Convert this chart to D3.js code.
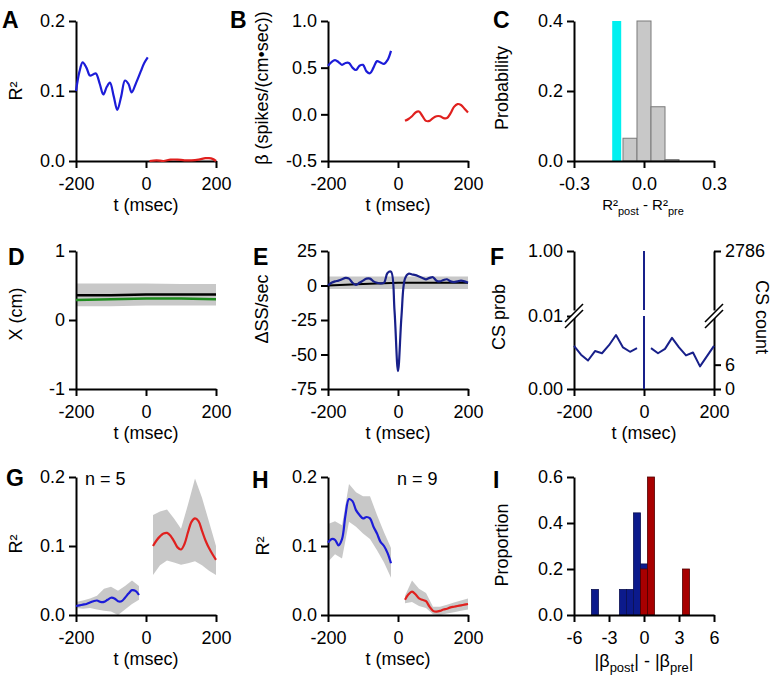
<!DOCTYPE html>
<html><head><meta charset="utf-8">
<script src="https://cdn.jsdelivr.net/npm/d3@7"></script>
<style>
body{margin:0;background:#fff}
svg text{font-family:'Liberation Sans',Arial,sans-serif;fill:#000}
</style>
</head><body>
<svg id="c" width="775" height="681"></svg>
<script>
// ---------------- DATA ----------------
// Panel A
const tA_pre = [-200,-190,-181,-170,-160,-150,-143,-132,-122,-112,-103,-92,-82,-71,-60,-50,-41,-28,-15,-5,5];
const A_pre  = [0.100,0.128,0.141,0.133,0.122,0.124,0.125,0.110,0.095,0.106,0.112,0.092,0.073,0.092,0.115,0.110,0.098,0.112,0.128,0.140,0.148];
const tA_post = [10,30,50,70,90,110,130,150,170,180,190,200];
const A_post  = [0.000,0.001,0.000,0.002,0.002,0.001,0.001,0.002,0.004,0.004,0.003,0.000];
// shared time bases
const tPre  = [-200,-190,-180,-170,-160,-150,-140,-130,-120,-110,-100,-90,-80,-70,-60,-50,-40,-30,-20];
const tPost = [20,30,40,50,60,70,80,90,100,110,120,130,140,150,160,170,180,190,200];
// Panel B
const B_pre  = [0.52,0.56,0.58,0.56,0.53,0.55,0.55,0.50,0.475,0.52,0.53,0.46,0.44,0.50,0.57,0.555,0.54,0.58,0.68];
const B_post = [-0.07,-0.05,-0.02,0.02,0.03,-0.02,-0.07,-0.07,-0.04,-0.02,-0.02,-0.04,-0.04,0.01,0.08,0.11,0.10,0.06,0.02];
// Panel C (histogram of R2post - R2pre)
const C_binStart = [-0.09,-0.03,0.03,0.09];
const C_binWidth = 0.06;
const C_prob     = [0.065,0.400,0.155,0.004];
const C_observed = -0.117;
const C_observedProb = 0.4;
// Panel D
const tD = [-200,-100,0,100,200];
const D_black = [0.36,0.36,0.37,0.37,0.37];
const D_green = [0.29,0.30,0.31,0.31,0.30];
const D_lo = [0.20,0.20,0.21,0.21,0.21];
const D_hi = [0.53,0.53,0.53,0.52,0.52];
// Panel E
const tE = [-200,-190,-180,-170,-160,-150,-140,-130,-120,-110,-100,-90,-80,-70,-60,-50,-40,-30,-20,-10,0,10,20,30,40,50,60,70,80,90,100,110,120,130,140,150,160,170,180,190,200];
const E_blue = [0,2,3,3.5,4.5,5.5,5,2,0.5,2,3.5,5,5,3,2,1.5,2,9,10,-18,-62,-22,5,8.5,8,7.5,6.5,5.5,4.5,5.5,6,3.5,3,4,4.5,3,2.5,3,3.5,3,2];
const tEb = [-200,-100,0,100,200];
const E_black = [0,1,2,2,2];
const E_lo = [-2.5,-2.5,-2.5,-2.5,-2.5];
const E_hi = [6.5,6.5,6.5,6.5,6.5];
// Panel F
const tF_pre  = [-200,-180,-160,-140,-120,-100,-80,-60,-40,-20];
const F_pre   = [0.0059,0.0047,0.0039,0.0052,0.0049,0.0060,0.0074,0.0057,0.0051,0.0056];
const tF_post = [20,40,60,80,100,120,140,160,180,200];
const F_post  = [0.0056,0.0049,0.0055,0.0070,0.0057,0.0046,0.0050,0.0031,0.0045,0.0059];
const F_spikeT = 0, F_spikeP = 1.00;
const F_leftTicks  = [0, 0.01, 1.00];
const F_leftLabels = ["0.00","0.01","1.00"];
const F_rightTicks = [0, 6, 2786];
const F_rightLabels= ["0","6","2786"];
// Panel G
const G_pre  = [0.013,0.014,0.015,0.016,0.018,0.020,0.021,0.019,0.019,0.022,0.025,0.024,0.020,0.020,0.025,0.031,0.036,0.035,0.029];
const tBand_pre  = [-200,-180,-160,-140,-120,-100,-80,-60,-40,-20];
const tBand_post = [20,40,60,80,100,120,140,160,180,200];
const G_preHi = [0.019,0.021,0.024,0.028,0.038,0.041,0.035,0.042,0.050,0.042];
const G_preLo = [0.010,0.009,0.010,0.008,0.006,0.005,0.000,0.008,0.016,0.022];
const G_post = [0.100,0.108,0.114,0.118,0.119,0.115,0.107,0.098,0.095,0.103,0.120,0.135,0.140,0.136,0.122,0.108,0.097,0.088,0.080];
const G_postHi = [0.145,0.150,0.153,0.140,0.125,0.160,0.198,0.170,0.135,0.100];
const G_postLo = [0.058,0.072,0.079,0.076,0.073,0.075,0.078,0.072,0.064,0.058];
// Panel H
const H_pre  = [0.105,0.110,0.109,0.101,0.110,0.145,0.168,0.165,0.152,0.145,0.140,0.142,0.140,0.128,0.118,0.106,0.100,0.090,0.075];
const H_preHi = [0.132,0.136,0.130,0.190,0.178,0.172,0.172,0.145,0.120,0.097];
const H_preLo = [0.077,0.088,0.082,0.135,0.128,0.118,0.110,0.094,0.076,0.054];
const H_post = [0.022,0.030,0.034,0.030,0.024,0.022,0.020,0.012,0.006,0.005,0.006,0.008,0.009,0.011,0.012,0.013,0.014,0.015,0.016];
const H_postHi = [0.028,0.050,0.038,0.032,0.012,0.012,0.015,0.018,0.021,0.024];
const H_postLo = [0.017,0.019,0.013,0.010,0.001,0.000,0.002,0.004,0.006,0.008];
// Panel I
const I_binWidth = 0.6;
const I_blueStart = [-4.5,-2.1,-1.5,-0.9,-0.3];
const I_blueProp  = [0.111,0.111,0.111,0.444,0.222];
const I_redStart  = [-0.3,0.3,3.3];
const I_redProp   = [0.2,0.6,0.2];
// tick labels
const tTicks = [-200,0,200], tLabels = ["-200","0","200"];
const r2Ticks = [0,0.1,0.2], r2Labels = ["0.0","0.1","0.2"];
const bTicks = [-0.5,0,0.5,1], bLabels = ["-0.5","0.0","0.5","1.0"];
const cxTicks = [-0.3,0,0.3], cxLabels = ["-0.3","0.0","0.3"];
const cyTicks = [0,0.2,0.4], cyLabels = ["0.0","0.2","0.4"];
const dTicks = [-1,0,1], dLabels = ["-1","0","1"];
const eTicks = [-75,-50,-25,0,25], eLabels = ["-75","-50","-25","0","25"];
const ixTicks = [-6,-3,0,3,6], ixLabels = ["-6","-3","0","3","6"];
const iyTicks = [0,0.2,0.4,0.6], iyLabels = ["0.0","0.2","0.4","0.6"];

// ---------------- LAYOUT ----------------
const svg = d3.select('#c');
const COLX = [76, 328, 574], W = 140;
const ROWS = [[21,161],[251,389],[477,615]];
const BLUE='#1c1cd8', RED='#e0201e', NAVY='#18208a', BAND='#c8c8c8';
const FS = 18;

function sx(col, dom){ return d3.scaleLinear().domain(dom).range([COLX[col], COLX[col]+W]); }
function sy(row, dom){ return d3.scaleLinear().domain(dom).range([ROWS[row][1], ROWS[row][0]]); }

function styleAxis(g){
  g.attr('font-size',FS).attr('font-family',"'Liberation Sans',Arial,sans-serif");
  g.select('.domain').attr('stroke','#000').attr('stroke-width',2);
  g.selectAll('.tick line').attr('stroke','#000').attr('stroke-width',2);
  g.selectAll('.tick text').attr('fill','#000');
}
function xAxis(x, y, ticks, labels){
  const g = svg.append('g').attr('transform',`translate(0,${y.range()[0]})`)
    .call(d3.axisBottom(x).tickValues(ticks).tickFormat((d,i)=>labels[i]).tickSize(7).tickSizeOuter(0).tickPadding(9));
  styleAxis(g); return g;
}
function yAxis(x, y, ticks, labels){
  const g = svg.append('g').attr('transform',`translate(${x.range()[0]},0)`)
    .call(d3.axisLeft(y).tickValues(ticks).tickFormat((d,i)=>labels[i]).tickSize(7).tickSizeOuter(0).tickPadding(4));
  styleAxis(g); return g;
}
function xTitle(x, y, txt){
  svg.append('text').attr('x',(x.range()[0]+x.range()[1])/2).attr('y',y.range()[0]+50)
    .attr('text-anchor','middle').attr('font-size',FS).text(txt);
}
function yTitle(cx, cy, txt, rot){
  return svg.append('text').attr('transform',`translate(${cx},${cy}) rotate(${rot||-90})`)
    .attr('text-anchor','middle').attr('dy','0.35em').attr('font-size',FS).text(txt);
}
function letter(x,y,t){
  svg.append('text').attr('x',x).attr('y',y).attr('font-size',23).attr('font-weight','bold').text(t);
}
function line(x,y,ts,vs,color,w,curve){
  svg.append('path').datum(ts.map((t,i)=>[t,vs[i]]))
    .attr('d', d3.line().x(d=>x(d[0])).y(d=>y(d[1])).curve(curve||d3.curveCatmullRom.alpha(0.5)))
    .attr('fill','none').attr('stroke',color).attr('stroke-width',w||2.2).attr('stroke-linejoin','round');
}
function band(x,y,ts,lo,hi,color){
  svg.append('path').datum(ts.map((t,i)=>[t,lo[i],hi[i]]))
    .attr('d', d3.area().x(d=>x(d[0])).y0(d=>y(d[1])).y1(d=>y(d[2])))
    .attr('fill',color||BAND);
}

// ---------------- A ----------------
{
  const x = sx(0,[-200,200]), y = sy(0,[0,0.2]);
  xAxis(x,y,tTicks,tLabels); yAxis(x,y,r2Ticks,r2Labels);
  line(x,y,tA_pre,A_pre,BLUE);
  line(x,y,tA_post,A_post,RED);
  xTitle(x,y,'t (msec)');
  yTitle(16,91,'R²');
  letter(2,28,'A');
}
// ---------------- B ----------------
{
  const x = sx(1,[-200,200]), y = sy(0,[-0.5,1]);
  xAxis(x,y,tTicks,tLabels); yAxis(x,y,bTicks,bLabels);
  line(x,y,tPre,B_pre,BLUE);
  line(x,y,tPost,B_post,RED);
  xTitle(x,y,'t (msec)');
  yTitle(262,88,'β (spikes/(cm•sec))');
  letter(230,28,'B');
}
// ---------------- C ----------------
{
  const x = sx(2,[-0.3,0.3]), y = sy(0,[0,0.4]);
  svg.append('g').selectAll('rect').data(C_binStart).join('rect')
    .attr('x',d=>x(d)).attr('width',d=>x(d+C_binWidth)-x(d))
    .attr('y',(d,i)=>y(C_prob[i])).attr('height',(d,i)=>y(0)-y(C_prob[i]))
    .attr('fill','#c8c8c8').attr('stroke','#7a7a7a').attr('stroke-width',1);
  svg.append('rect').attr('x',x(C_observed)-4.5).attr('width',9)
    .attr('y',y(C_observedProb)).attr('height',y(0)-y(C_observedProb)).attr('fill','#00f0f0');
  xAxis(x,y,cxTicks,cxLabels); yAxis(x,y,cyTicks,cyLabels);
  const t = svg.append('text').attr('x',643).attr('y',210).attr('text-anchor','middle').attr('font-size',15);
  t.append('tspan').text('R²');
  t.append('tspan').attr('dy',5).attr('font-size',11).text('post');
  t.append('tspan').attr('dy',-5).text(' - R²');
  t.append('tspan').attr('dy',5).attr('font-size',11).text('pre');
  yTitle(502,88,'Probability');
  letter(493,28,'C');
}
// ---------------- D ----------------
{
  const x = sx(0,[-200,200]), y = sy(1,[-1,1]);
  band(x,y,tD,D_lo,D_hi);
  xAxis(x,y,tTicks,tLabels); yAxis(x,y,dTicks,dLabels);
  line(x,y,tD,D_black,'#000',2.5,d3.curveLinear);
  line(x,y,tD,D_green,'#1e8c1e',2.5,d3.curveLinear);
  xTitle(x,y,'t (msec)');
  yTitle(16,314,'X (cm)');
  letter(8,265,'D');
}
// ---------------- E ----------------
{
  const x = sx(1,[-200,200]), y = sy(1,[-75,25]);
  band(x,y,tEb,E_lo,E_hi);
  xAxis(x,y,tTicks,tLabels); yAxis(x,y,eTicks,eLabels);
  line(x,y,tEb,E_black,'#000',2,d3.curveLinear);
  line(x,y,tE,E_blue,NAVY,2.2);
  xTitle(x,y,'t (msec)');
  yTitle(262,309,'ΔSS/sec');
  letter(253,265,'E');
}
// ---------------- F ----------------
{
  const x = sx(2,[-200,200]);
  const yLo = d3.scaleLinear().domain([0,0.01]).range([389,316]);
  const yHi = d3.scaleLinear().domain([0.01,1]).range([310,251]);
  const cLo = d3.scaleLinear().domain([0,18]).range([389,316]);
  const cHi = d3.scaleLinear().domain([18,2786]).range([310,251]);
  xAxis(x,yLo,tTicks,tLabels);
  const L = COLX[2], R = COLX[2]+W;
  [ [yLo,[F_leftTicks[0],F_leftTicks[1]],[F_leftLabels[0],F_leftLabels[1]]], [yHi,[F_leftTicks[2]],[F_leftLabels[2]]] ].forEach(([s,tk,lb])=>{
    const g = svg.append('g').attr('transform',`translate(${L},0)`)
      .call(d3.axisLeft(s).tickValues(tk).tickFormat((d,i)=>lb[i]).tickSize(7).tickSizeOuter(0).tickPadding(4));
    styleAxis(g);
  });
  [ [cLo,[F_rightTicks[0],F_rightTicks[1]],[F_rightLabels[0],F_rightLabels[1]]], [cHi,[F_rightTicks[2]],[F_rightLabels[2]]] ].forEach(([s,tk,lb])=>{
    const g = svg.append('g').attr('transform',`translate(${R},0)`)
      .call(d3.axisRight(s).tickValues(tk).tickFormat((d,i)=>lb[i]).tickSize(7).tickSizeOuter(0).tickPadding(4));
    styleAxis(g);
  });
  [L,R].forEach(ax=>{
    const yc = 313;
    svg.append('path').attr('d',`M${ax-9},${yc+9} L${ax+9},${yc-9} L${ax+9},${yc-3} L${ax-9},${yc+15} Z`).attr('fill','#fff');
    svg.append('line').attr('x1',ax-9).attr('y1',yc+9).attr('x2',ax+9).attr('y2',yc-9).attr('stroke','#000').attr('stroke-width',1.6);
    svg.append('line').attr('x1',ax-9).attr('y1',yc+15).attr('x2',ax+9).attr('y2',yc-3).attr('stroke','#000').attr('stroke-width',1.6);
  });
  line(x,yLo,tF_pre,F_pre,NAVY,2,d3.curveLinear);
  line(x,yLo,tF_post,F_post,NAVY,2,d3.curveLinear);
  svg.append('line').attr('x1',x(F_spikeT)).attr('x2',x(F_spikeT)).attr('y1',yLo(0)).attr('y2',yLo(0.01)).attr('stroke',NAVY).attr('stroke-width',2);
  svg.append('line').attr('x1',x(F_spikeT)).attr('x2',x(F_spikeT)).attr('y1',yHi(0.01)).attr('y2',yHi(F_spikeP)).attr('stroke',NAVY).attr('stroke-width',2);
  xTitle(x,yLo,'t (msec)');
  yTitle(499,317,'CS prob');
  yTitle(762,317,'CS count',90);
  letter(490,265,'F');
}
// ---------------- G ----------------
{
  const x = sx(0,[-200,200]), y = sy(2,[0,0.2]);
  band(x,y,tBand_pre,G_preLo,G_preHi);
  band(x,y,tBand_post,G_postLo,G_postHi);
  xAxis(x,y,tTicks,tLabels); yAxis(x,y,r2Ticks,r2Labels);
  line(x,y,tPre,G_pre,BLUE);
  line(x,y,tPost,G_post,RED);
  xTitle(x,y,'t (msec)');
  yTitle(16,544,'R²');
  svg.append('text').attr('x',85).attr('y',485).attr('font-size',FS).text('n = 5');
  letter(6,486,'G');
}
// ---------------- H ----------------
{
  const x = sx(1,[-200,200]), y = sy(2,[0,0.2]);
  band(x,y,tBand_pre,H_preLo,H_preHi);
  band(x,y,tBand_post,H_postLo,H_postHi);
  xAxis(x,y,tTicks,tLabels); yAxis(x,y,r2Ticks,r2Labels);
  line(x,y,tPre,H_pre,BLUE);
  line(x,y,tPost,H_post,RED);
  xTitle(x,y,'t (msec)');
  yTitle(263,546,'R²');
  svg.append('text').attr('x',397).attr('y',485).attr('font-size',FS).text('n = 9');
  letter(252,488,'H');
}
// ---------------- I ----------------
{
  const x = sx(2,[-6,6]), y = sy(2,[0,0.6]);
  svg.append('g').selectAll('rect').data(I_blueStart).join('rect')
    .attr('x',d=>x(d)).attr('width',d=>x(d+I_binWidth)-x(d))
    .attr('y',(d,i)=>y(I_blueProp[i])).attr('height',(d,i)=>y(0)-y(I_blueProp[i]))
    .attr('fill','#0c1a8c').attr('stroke','#0a0f50').attr('stroke-width',0.8);
  svg.append('g').selectAll('rect').data(I_redStart).join('rect')
    .attr('x',d=>x(d)).attr('width',d=>x(d+I_binWidth)-x(d))
    .attr('y',(d,i)=>y(I_redProp[i])).attr('height',(d,i)=>y(0)-y(I_redProp[i]))
    .attr('fill','#a80000').attr('stroke','#500000').attr('stroke-width',0.8);
  xAxis(x,y,ixTicks,ixLabels); yAxis(x,y,iyTicks,iyLabels);
  const t = svg.append('text').attr('x',644).attr('y',667).attr('text-anchor','middle').attr('font-size',FS);
  t.append('tspan').text('|β');
  t.append('tspan').attr('dy',5).attr('font-size',13).text('post');
  t.append('tspan').attr('dy',-5).text('| - |β');
  t.append('tspan').attr('dy',5).attr('font-size',13).text('pre');
  t.append('tspan').attr('dy',-5).text('|');
  yTitle(502,545,'Proportion');
  letter(493,488,'I');
}
</script>
</body></html>
